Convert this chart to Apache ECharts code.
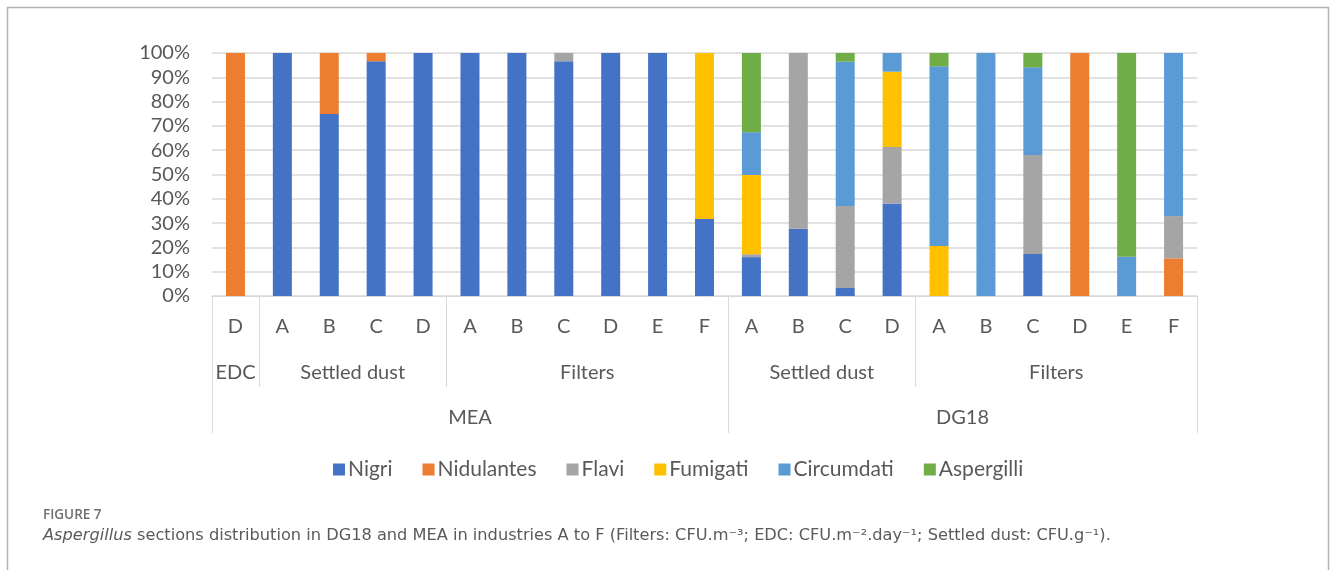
<!DOCTYPE html>
<html>
<head>
<meta charset="utf-8">
<script src="https://cdn.jsdelivr.net/npm/echarts@6/dist/echarts.min.js"></script>
<style>
  html, body { margin: 0; padding: 0; background: #ffffff; }
  #chart { width: 1330px; height: 570px; }
</style>
</head>
<body>
<div id="chart"></div>
<script>
// ---- Data (values in % of each bar) ----
const categories = ['D', 'A', 'B', 'C', 'D', 'A', 'B', 'C', 'D', 'E', 'F', 'A', 'B', 'C', 'D', 'A', 'B', 'C', 'D', 'E', 'F'];
const nigri      = [0, 100, 74.9, 96.6, 100, 100, 100, 96.6, 100, 100, 31.7, 16.0, 27.7, 3.3, 38.1, 0, 0, 17.3, 0, 0, 0];
const nidulantes = [100, 0, 25.1, 3.4, 0, 0, 0, 0, 0, 0, 0, 0, 0, 0, 0, 0, 0, 0, 100, 0, 15.5];
const flavi      = [0, 0, 0, 0, 0, 0, 0, 3.4, 0, 0, 0, 1.2, 72.3, 33.7, 23.2, 0, 0, 40.7, 0, 0, 17.4];
const fumigati   = [0, 0, 0, 0, 0, 0, 0, 0, 0, 0, 68.3, 32.6, 0, 0, 31.0, 20.6, 0, 0, 0, 0, 0];
const circumdati = [0, 0, 0, 0, 0, 0, 0, 0, 0, 0, 0, 17.6, 0, 59.4, 7.7, 73.9, 100, 36.1, 0, 16.2, 67.1];
const aspergilli = [0, 0, 0, 0, 0, 0, 0, 0, 0, 0, 0, 32.6, 0, 3.6, 0, 5.5, 0, 5.9, 0, 83.8, 0];

// sample-type groups (level 2) and medium groups (level 3), as category spans
const groupLabels  = ['EDC', 'Settled dust', 'Filters', 'Settled dust', 'Filters'];
const groupBounds  = [0, 1, 5, 11, 15, 21];
const mediumLabels = ['MEA', 'DG18'];
const mediumBounds = [0, 11, 21];

const yTicks = [0, 10, 20, 30, 40, 50, 60, 70, 80, 90, 100];

const seriesNames  = ['Nigri', 'Nidulantes', 'Flavi', 'Fumigati', 'Circumdati', 'Aspergilli'];
const seriesData   = [nigri, nidulantes, flavi, fumigati, circumdati, aspergilli];
const seriesColors = ['#4472C4', '#ED7D31', '#A5A5A5', '#FFC000', '#5B9BD5', '#70AD47'];

// ---- Build option ----
const groupCenters = groupLabels.map((_, i) => (groupBounds[i] + groupBounds[i + 1]) / 2);
const mediumCenters = mediumLabels.map((_, i) => (mediumBounds[i] + mediumBounds[i + 1]) / 2);
const FONT = 'Lato';
const LABEL_COLOR = '#595959';
const LINE_COLOR = '#d9d9d9';

const chart = echarts.init(document.getElementById('chart'));
chart.setOption({
  animation: false,
  backgroundColor: '#ffffff',
  textStyle: { fontFamily: FONT },
  title: [
    {
      text: 'FIGURE 7',
      left: 38, top: 503,
      textStyle: { fontFamily: 'Open Sans', fontSize: 13.5, fontWeight: 600, color: '#6f6f6f' }
    },
    {
      text: '{i|Aspergillus} sections distribution in DG18 and MEA in industries A to F (Filters: CFU.m⁻³; EDC: CFU.m⁻².day⁻¹; Settled dust: CFU.g⁻¹).',
      left: 38, top: 523,
      textStyle: {
        fontFamily: 'DejaVu Sans', fontSize: 16.2, fontWeight: 'normal', color: '#5a5a5a',
        rich: { i: { fontFamily: 'DejaVu Sans', fontSize: 16.2, fontStyle: 'italic', color: '#5a5a5a' } }
      }
    }
  ],
  legend: {
    data: seriesNames,
    left: 328, top: 454,
    itemWidth: 12, itemHeight: 12, itemGap: 30,
    icon: 'rect',
    textStyle: { fontFamily: FONT, fontSize: 21, color: LABEL_COLOR, padding: [0, 0, 0, -2] }
  },
  grid: { left: 212, right: 133, top: 53, bottom: 274, containLabel: false },
  xAxis: [
    {
      type: 'category',
      data: categories,
      position: 'bottom',
      axisLine: { show: true, lineStyle: { color: LINE_COLOR, width: 1 } },
      axisTick: { show: false },
      axisLabel: { interval: 0, margin: 21, fontFamily: FONT, fontSize: 20, color: LABEL_COLOR }
    },
    {
      type: 'value',
      min: 0, max: categories.length,
      position: 'bottom',
      axisLine: { show: false },
      splitLine: { show: false },
      axisTick: { show: true, customValues: groupBounds, length: 91, lineStyle: { color: LINE_COLOR, width: 1 } },
      axisLabel: {
        customValues: groupCenters,
        margin: 67, fontFamily: FONT, fontSize: 20, color: LABEL_COLOR,
        formatter: function (v) { const i = groupCenters.indexOf(v); return i >= 0 ? groupLabels[i] : ''; }
      }
    },
    {
      type: 'value',
      min: 0, max: categories.length,
      position: 'bottom',
      axisLine: { show: false },
      splitLine: { show: false },
      axisTick: { show: true, customValues: mediumBounds, length: 137, lineStyle: { color: LINE_COLOR, width: 1 } },
      axisLabel: {
        customValues: mediumCenters,
        margin: 112, fontFamily: FONT, fontSize: 20, color: LABEL_COLOR,
        formatter: function (v) { const i = mediumCenters.indexOf(v); return i >= 0 ? mediumLabels[i] : ''; }
      }
    }
  ],
  yAxis: {
    type: 'value',
    min: yTicks[0], max: yTicks[yTicks.length - 1], interval: yTicks[1] - yTicks[0],
    axisLine: { show: false },
    axisTick: { show: false },
    splitLine: { show: true, lineStyle: { color: LINE_COLOR, width: 1.5 } },
    axisLabel: { margin: 22, fontFamily: FONT, fontSize: 20, color: LABEL_COLOR, formatter: '{value}%' }
  },
  series: seriesNames.map((name, k) => ({
    name: name,
    type: 'bar',
    stack: 'total',
    xAxisIndex: 0,
    barWidth: 19,
    itemStyle: { color: seriesColors[k] },
    data: seriesData[k]
  })),
  graphic: [
    {
      type: 'polyline',
      silent: true,
      shape: { points: [[7.5, 600], [7.5, 7.5], [1328.5, 7.5], [1328.5, 600]] },
      style: { stroke: '#b4b4b4', lineWidth: 1.5, fill: null }
    }
  ]
});
</script>
</body>
</html>
